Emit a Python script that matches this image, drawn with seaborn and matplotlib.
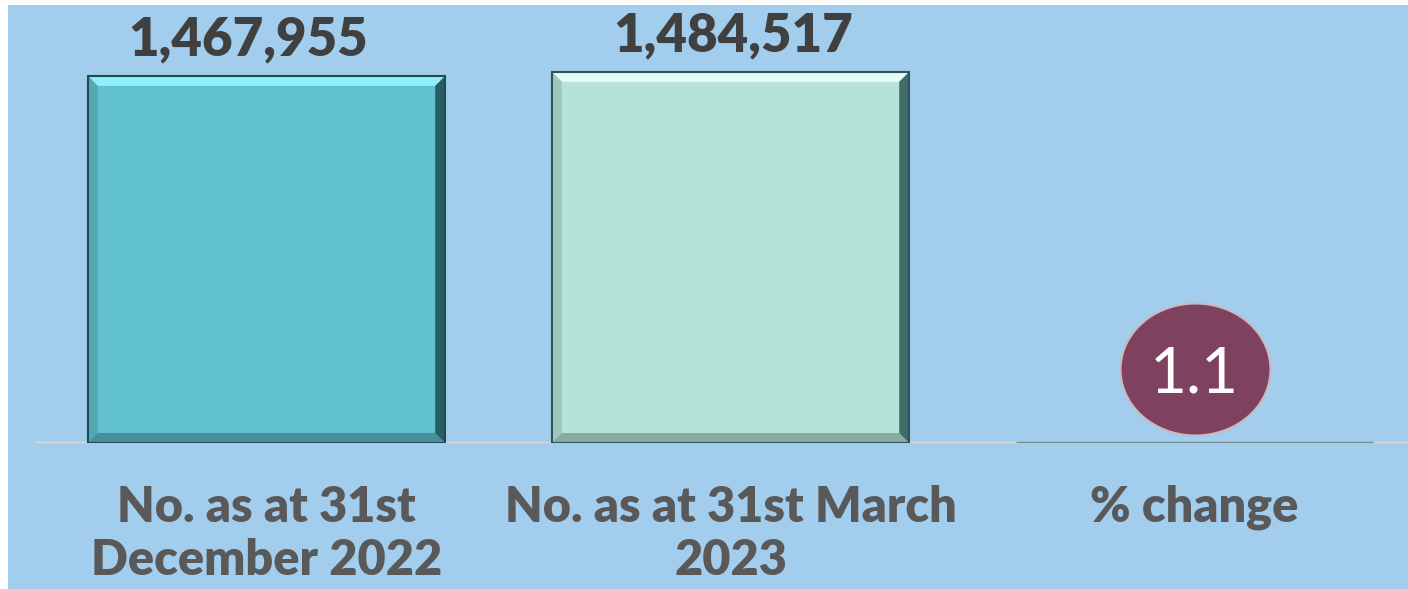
import matplotlib
matplotlib.use("Agg")
import matplotlib.pyplot as plt
import seaborn as sns
import pandas as pd
import numpy as np
from matplotlib.patches import Polygon, Rectangle
from matplotlib.path import Path
import matplotlib.transforms as mtransforms

categories = ["No. as at 31st\nDecember 2022", "No. as at 31st March\n2023", "% change"]
values = [1467955, 1484517, 1.1]
value_labels = ["1,467,955", "1,484,517", "1.1"]
bar_colors = ["#60C0CE", "#B5E3D8", "#5E9EA6"]
light_colors = ["#8EEFF6", "#E6FFF6", "#8FC7CF"]
dark_colors = ["#1E4C52", "#2E5753", "#2E5A60"]
label_dx_pt = [-13, 2, 0]

BG = "#A3CDED"

sns.set_theme(style="white")
plt.rcParams['font.family'] = ['Lato', 'DejaVu Sans']

fig = plt.figure(figsize=(14.08, 5.89), dpi=100)
fig.patch.set_facecolor("white")
fig.patches.append(Rectangle((8/1408, 0), 1 - 8/1408, 584/589, transform=fig.transFigure,
                             facecolor=BG, edgecolor="none", zorder=-10))

ax = fig.add_axes([35/1408, 146/589, 1373/1408, 438/589])
ax.set_facecolor("none")

df = pd.DataFrame({"cat": categories, "val": values})
sns.barplot(data=df, x="cat", y="val", hue="cat", palette=bar_colors, legend=False,
            width=0.77, ax=ax, saturation=1, edgecolor="none", linewidth=0)

ax.set_ylim(0, max(values) * 1.18)
ax.set_xlim(-0.499, 2.46)
for s in ax.spines.values():
    s.set_visible(False)
ax.set_yticks([])
ax.set_xlabel("")
ax.set_ylabel("")
ax.axhline(0, color="#D9D9D9", lw=2.5, zorder=0.5)
ax.tick_params(axis="x", length=0, pad=30)
for lbl in ax.get_xticklabels():
    lbl.set_fontsize(35)
    lbl.set_fontweight("heavy")
    lbl.set_color("#595959")
    lbl.set_linespacing(1.22)

fig.canvas.draw()
bars = [p for p in ax.patches if isinstance(p, Rectangle)]
inv = ax.transData.inverted()
bw = 10  # bevel pixels
for i, p in enumerate(bars):
    x0, y0 = p.get_x(), p.get_y()
    x1, y1 = x0 + p.get_width(), y0 + p.get_height()
    (dx0, dy0), (dx1, dy1) = ax.transData.transform([(x0, y0), (x1, y1)])
    if dy1 - dy0 < 4:
        ax.plot([x0, x1], [0, 0], color=dark_colors[i], lw=2.5, alpha=0.6, zorder=3,
                solid_capstyle="butt")
        continue
    def d2(pts):
        return inv.transform(pts)
    top = d2([(dx0, dy1), (dx1, dy1), (dx1 - bw, dy1 - bw), (dx0 + bw, dy1 - bw)])
    right = d2([(dx1, dy1), (dx1, dy0), (dx1 - bw, dy0 + bw), (dx1 - bw, dy1 - bw)])
    bottom = d2([(dx0, dy0), (dx1, dy0), (dx1 - bw, dy0 + bw), (dx0 + bw, dy0 + bw)])
    left = d2([(dx0, dy0), (dx0, dy1), (dx0 + bw, dy1 - bw), (dx0 + bw, dy0 + bw)])
    ax.add_patch(Polygon(top, closed=True, facecolor=light_colors[i], edgecolor="none", zorder=3))
    ax.add_patch(Polygon(left, closed=True, facecolor=bar_colors[i], edgecolor="none", zorder=3))
    ax.add_patch(Polygon(left, closed=True, facecolor="black", edgecolor="none", zorder=3.1,
                         alpha=0.12))
    ax.add_patch(Polygon(bottom, closed=True, facecolor=bar_colors[i], edgecolor="none", zorder=3))
    ax.add_patch(Polygon(bottom, closed=True, facecolor="black", edgecolor="none", zorder=3.1,
                         alpha=0.25))
    ax.add_patch(Polygon(right, closed=True, facecolor=dark_colors[i], edgecolor="none", zorder=3.2,
                         alpha=0.85))
    ax.add_patch(Rectangle((x0, y0), x1 - x0, y1 - y0, facecolor="none",
                           edgecolor=dark_colors[i], lw=1.5, zorder=4))

# elliptical marker
theta = np.linspace(0, 2 * np.pi, 100)
ell = Path(np.column_stack([np.cos(theta), 0.88 * np.sin(theta)]), closed=True)

for i, (v, t) in enumerate(zip(values, value_labels)):
    if i < 2:
        ax.annotate(t, (i, v), xytext=(label_dx_pt[i], 8), textcoords="offset points",
                    ha="center", va="bottom", fontsize=38, fontweight="heavy", color="#404040")
    else:
        off = mtransforms.offset_copy(ax.transData, fig=fig, x=0, y=53, units="points")
        ax.scatter([i], [v], marker=ell, s=108**2, color="#7E415F", edgecolors="#C9B9BE",
                   linewidths=1.5, transform=off, zorder=5)
        ax.annotate(t, (i, v), xytext=(0, 53), textcoords="offset points", ha="center",
                    va="center_baseline", fontsize=46, color="white", zorder=6)

fig.savefig("out.png", dpi=100, facecolor=fig.get_facecolor())
